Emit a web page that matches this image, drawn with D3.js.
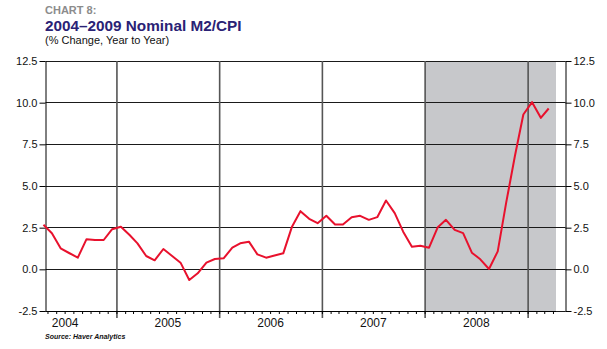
<!DOCTYPE html>
<html><head><meta charset="utf-8">
<script src="https://cdn.jsdelivr.net/npm/d3@7"></script>
<style>body{margin:0;background:#fff} svg{display:block}</style>
</head><body><svg id="c" width="607" height="349"></svg>
<script>
const months = [
  "2004-04","2004-05","2004-06","2004-07","2004-08","2004-09","2004-10","2004-11","2004-12",
  "2005-01","2005-02","2005-03","2005-04","2005-05","2005-06","2005-07","2005-08","2005-09","2005-10","2005-11","2005-12",
  "2006-01","2006-02","2006-03","2006-04","2006-05","2006-06","2006-07","2006-08","2006-09","2006-10","2006-11","2006-12",
  "2007-01","2007-02","2007-03","2007-04","2007-05","2007-06","2007-07","2007-08","2007-09","2007-10","2007-11","2007-12",
  "2008-01","2008-02","2008-03","2008-04","2008-05","2008-06","2008-07","2008-08","2008-09","2008-10","2008-11","2008-12",
  "2009-01","2009-02","2009-03"
];
const values = [
  2.67, 2.17, 1.26, 0.98, 0.70, 1.81, 1.76, 1.76, 2.41,
  2.56, 2.06, 1.56, 0.80, 0.54, 1.22, 0.82, 0.40, -0.64, -0.24, 0.40, 0.62,
  0.66, 1.30, 1.56, 1.66, 0.90, 0.70, 0.83, 0.96, 2.56, 3.49, 3.03, 2.77,
  3.21, 2.69, 2.69, 3.13, 3.21, 2.97, 3.13, 4.13, 3.37, 2.26, 1.36, 1.42,
  1.30, 2.53, 2.97, 2.37, 2.17, 1.00, 0.60, 0.02, 1.08, 4.00, 6.80, 9.29,
  10.03, 9.09, 9.65
];
const yTicks = [-2.5, 0, 2.5, 5, 7.5, 10, 12.5];
const yearLabels = ["2004", "2005", "2006", "2007", "2008"];
const yearBreaks = ["2005", "2006", "2007", "2008", "2009"];
const recession = ["2008-01-01", "2009-04-10"];
const xDomain = ["2004-04-24", "2009-04-10"];

const svg = d3.select("#c");
const parseM = d3.timeParse("%Y-%m");
const parseD = d3.timeParse("%Y-%m-%d");
const parseY = d3.timeParse("%Y");
const midMonth = s => { const d = parseM(s); return new Date(d.getFullYear(), d.getMonth(), 15); };

const L = 45.5, R = 565.5, T = 61, B = 311;
const x = d3.scaleTime().domain(xDomain.map(parseD)).range([46, 556]);
const y = d3.scaleLinear().domain([-2.5, 12.5]).range([B, T]);
const crisp = v => Math.round(v - 0.5) + 0.5;

// recession shading
svg.append("rect")
  .attr("x", x(parseD(recession[0]))).attr("y", T)
  .attr("width", x(parseD(recession[1])) - x(parseD(recession[0])))
  .attr("height", B - T).attr("fill", "#c7c8cb");

// horizontal gridlines
svg.append("g").selectAll("line").data(yTicks).join("line")
  .attr("x1", L).attr("x2", R)
  .attr("y1", d => crisp(y(d))).attr("y2", d => crisp(y(d)))
  .attr("stroke", "#1a1a1a").attr("stroke-width", 1.2);

// year lines
svg.append("g").selectAll("line").data(yearBreaks).join("line")
  .attr("x1", d => x(parseY(d))).attr("x2", d => x(parseY(d)))
  .attr("y1", T).attr("y2", B + 7)
  .attr("stroke", "#555").attr("stroke-width", 1.6);

// left and right axes
const fmt = d => d.toFixed(1);
const gl = svg.append("g").attr("transform", `translate(${L},0)`)
  .call(d3.axisLeft(y).tickValues(yTicks).tickFormat(fmt).tickSize(6).tickSizeOuter(0).tickPadding(2));
const gr = svg.append("g").attr("transform", `translate(${R},0)`)
  .call(d3.axisRight(y).tickValues(yTicks).tickFormat(fmt).tickSize(6).tickSizeOuter(0).tickPadding(2));
[gl, gr].forEach(g => {
  g.select(".domain").attr("stroke", "#000");
  g.selectAll(".tick line").attr("stroke", "#000");
  g.selectAll("text").attr("font-family", "Liberation Sans, Arial, sans-serif")
    .attr("font-size", 11).attr("fill", "#111");
});

// bottom axis
svg.append("line").attr("x1", L).attr("x2", 556).attr("y1", B + 0.5).attr("y2", B + 0.5)
  .attr("stroke", "#000").attr("stroke-width", 1);
const monthTicks = d3.timeMonth.range(x.domain()[0], x.domain()[1]);
svg.append("g").selectAll("line").data(monthTicks).join("line")
  .attr("x1", d => x(d)).attr("x2", d => x(d))
  .attr("y1", B).attr("y2", B + 3)
  .attr("stroke", "#000").attr("stroke-width", 1);

svg.append("g").selectAll("text").data(yearLabels).join("text")
  .attr("x", d => x(new Date(+d, 6, 1)))
  .attr("y", 327)
  .attr("text-anchor", "middle")
  .attr("font-family", "Liberation Sans, Arial, sans-serif")
  .attr("font-size", 12).attr("fill", "#111")
  .text(d => d);

// data line
const pts = months.map((m, i) => [midMonth(m), values[i]]);
svg.append("path").datum(pts)
  .attr("d", d3.line().x(d => x(d[0])).y(d => y(d[1])))
  .attr("fill", "none").attr("stroke", "#e8112d").attr("stroke-width", 2)
  .attr("stroke-linejoin", "round");

// titles
svg.append("text").attr("x", 45).attr("y", 14)
  .attr("font-family", "Liberation Sans, Arial, sans-serif").attr("font-weight", "bold")
  .attr("font-size", 11).attr("fill", "#8c8c8c").text("CHART 8:");
svg.append("text").attr("x", 45).attr("y", 31)
  .attr("font-family", "Liberation Sans, Arial, sans-serif").attr("font-weight", "bold")
  .attr("font-size", 15.3).attr("fill", "#2a2275").text("2004–2009 Nominal M2/CPI");
svg.append("text").attr("x", 45).attr("y", 44)
  .attr("font-family", "Liberation Sans, Arial, sans-serif")
  .attr("font-size", 11).attr("fill", "#111").text("(% Change, Year to Year)");
svg.append("text").attr("x", 45).attr("y", 339)
  .attr("font-family", "Liberation Sans, Arial, sans-serif").attr("font-weight", "bold")
  .attr("font-style", "italic")
  .attr("font-size", 7).attr("fill", "#111").text("Source: Haver Analytics");
</script>
</body></html>
